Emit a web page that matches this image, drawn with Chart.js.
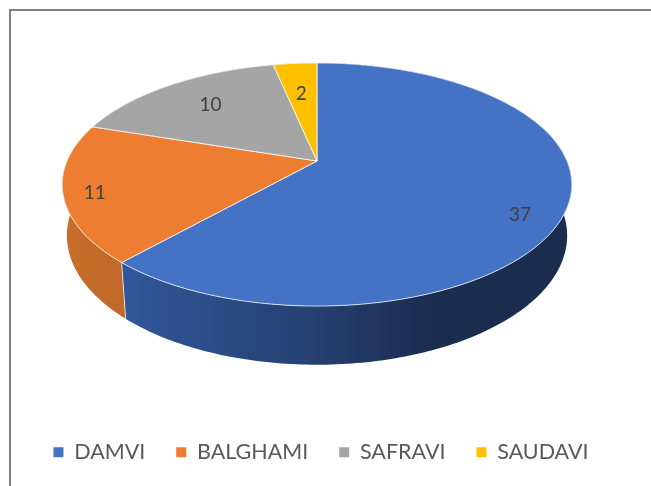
<!DOCTYPE html>
<html>
<head>
<meta charset="utf-8">
<script src="https://cdn.jsdelivr.net/npm/chart.js@4"></script>
<style>
  html, body { margin: 0; padding: 0; background: #fff; overflow: hidden; }
  #frame { position: absolute; left: 9px; top: 9px; width: 642px; height: 477px; border-left: 2px solid #808080; border-top: 2px solid #808080; box-sizing: border-box; }
  #wrap { position: absolute; left: 0; top: 0; width: 651px; height: 486px; }
</style>
</head>
<body>
<div id="frame"></div>
<div id="wrap"><canvas id="grafico" width="651" height="486"></canvas></div>
<script>
var categorias = ["DAMVI", "BALGHAMI", "SAFRAVI", "SAUDAVI"];
var valores = [37, 11, 10, 2];
var cores = ["#4472C4", "#ED7D31", "#A5A5A5", "#FFC000"];

// the reference is a perspective pie, canvas transforms can't do that so the
// arcs are re-projected here from the angles the doughnut controller worked out
var pCx = 317, pCy = 161, pR = 250, pB = 117, pPersp = 0.1934;
var pDepth = 51, pDepthW = 0.018;

function projeta(a, f, baixo) {
  var u = Math.cos(a) * f, v = -Math.sin(a) * f;
  var w = 1 + pPersp * v + (baixo ? pDepthW : 0);
  return {
    x: pCx + pR * u / w,
    y: pCy + (pB * -v + (baixo ? pDepth : 0)) / w
  };
}

function contorno(ctx, ini, fim, baixo, inverso) {
  var n = Math.max(4, Math.ceil((fim - ini) * 60));
  for (var i = 0; i <= n; i++) {
    var t = inverso ? 1 - i / n : i / n;
    var p = projeta(ini + (fim - ini) * t, 1, baixo);
    ctx.lineTo(p.x, p.y);
  }
}

function gradiente(ctx, i) {
  var g = ctx.createLinearGradient(60, 0, 575, 0);
  if (i === 0) {
    g.addColorStop(0.13, "#30579a");
    g.addColorStop(0.5, "#253f70");
    g.addColorStop(0.72, "#1b2d4f");
    g.addColorStop(1, "#1b2d4f");
  } else if (i === 1) {
    g.addColorStop(0, "#c86f2b");
    g.addColorStop(0.13, "#bf6828");
  } else {
    g.addColorStop(0, "#7c7c7c");
    g.addColorStop(1, "#7c7c7c");
  }
  return g;
}

var pizza3d = {
  id: "pizza3d",
  beforeDatasetsDraw: function (chart) {
    var ctx = chart.ctx;
    var arcos = chart.getDatasetMeta(0).data;

    ctx.save();
    // side walls first, the caps cover whatever is behind
    arcos.forEach(function (arc, i) {
      ctx.beginPath();
      contorno(ctx, arc.startAngle, arc.endAngle, false, false);
      contorno(ctx, arc.startAngle, arc.endAngle, true, true);
      ctx.closePath();
      ctx.fillStyle = gradiente(ctx, i);
      ctx.fill();
    });

    // seam between blue and orange on the wall
    var ab = projeta(arcos[0].endAngle, 1, false);
    var bb = projeta(arcos[0].endAngle, 1, true);
    ctx.beginPath();
    ctx.moveTo(ab.x, ab.y);
    ctx.lineTo(bb.x, bb.y);
    ctx.strokeStyle = "rgba(255,255,255,0.7)";
    ctx.lineWidth = 1;
    ctx.stroke();

    arcos.forEach(function (arc, i) {
      var o = projeta(0, 0, false);
      ctx.beginPath();
      ctx.moveTo(o.x, o.y);
      contorno(ctx, arc.startAngle, arc.endAngle, false, false);
      ctx.closePath();
      ctx.fillStyle = cores[i];
      ctx.fill();
      ctx.strokeStyle = "rgba(255,255,255,0.75)";
      ctx.lineWidth = 1;
      ctx.stroke();
    });
    ctx.restore();
    return false;
  },
  afterDraw: function (chart) {
    var ctx = chart.ctx;
    var arcos = chart.getDatasetMeta(0).data;
    // radius fraction and nudge of each label, excel's best fit placement
    var fr = [0.82, 0.88, 0.7, 0.68];
    var dy = [17, 4, -1, 3];
    ctx.save();
    ctx.font = "19px Lato";
    ctx.fillStyle = "#404040";
    ctx.textAlign = "center";
    ctx.textBaseline = "middle";
    arcos.forEach(function (arc, i) {
      var p = projeta((arc.startAngle + arc.endAngle) / 2, fr[i], false);
      ctx.fillText(String(valores[i]), p.x, p.y + dy[i]);
    });
    ctx.restore();
  }
};

var ctx = document.getElementById("grafico").getContext("2d");
var myChart = new Chart(ctx, {
  type: "pie",
  data: {
    labels: categorias,
    datasets: [
      {
        data: valores,
        backgroundColor: cores,
        borderWidth: 0
      }
    ]
  },
  options: {
    responsive: false,
    animation: false,
    layout: { padding: { bottom: 13, right: 9 } },
    plugins: {
      tooltip: { enabled: false },
      legend: {
        position: "bottom",
        labels: {
          boxWidth: 10,
          boxHeight: 10,
          padding: 31,
          color: "#595959",
          font: { family: "Lato", size: 21.5 }
        }
      }
    }
  },
  plugins: [pizza3d]
});
</script>
</body>
</html>
